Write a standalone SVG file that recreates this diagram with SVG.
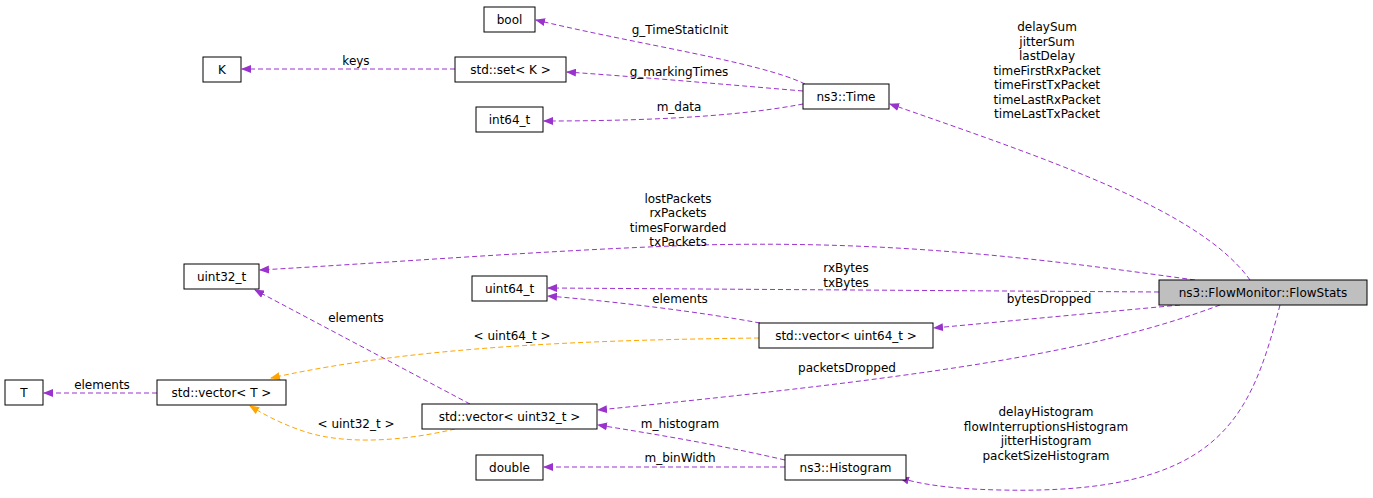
<svg xmlns="http://www.w3.org/2000/svg" width="1373" height="498" viewBox="0 0 1373 498">
<style>
.n rect{fill:#fff;stroke:#000;stroke-width:1}
text{font-family:"DejaVu Sans",sans-serif;font-size:12px;fill:#000;text-anchor:middle}
.e path{fill:none;stroke:#9a32cd;stroke-dasharray:5,3;marker-end:url(#ap)}
.e path.o{stroke:#ffa500;marker-end:url(#ao)}
</style>
<defs>
<marker id="ap" markerWidth="10" markerHeight="8" refX="9" refY="4" orient="auto" markerUnits="userSpaceOnUse"><path d="M0,0L10,4L0,8z" fill="#9a32cd"/></marker>
<marker id="ao" markerWidth="10" markerHeight="8" refX="9" refY="4" orient="auto" markerUnits="userSpaceOnUse"><path d="M0,0L10,4L0,8z" fill="#ffa500"/></marker>
</defs>
<rect width="1373" height="498" fill="#fff"/>
<g class="e" id="edges">
<path d="M805,84C760,62 640,45 536,20"/>
<text x="680" y="34">g_TimeStaticInit</text>
<path d="M803,91C720,84 640,77 567,72"/>
<text x="679" y="76">g_markingTimes</text>
<path d="M803,104C730,118 630,121 544,121"/>
<text x="679" y="111">m_data</text>
<path d="M455,69L242,69"/>
<text x="356" y="65">keys</text>
<path d="M1250,280C1200,210 1050,160 890,104"/>
<text x="1047" y="31">delaySum</text><text x="1047" y="46">jitterSum</text><text x="1047" y="60">lastDelay</text><text x="1047" y="75">timeFirstRxPacket</text><text x="1047" y="89">timeFirstTxPacket</text><text x="1047" y="104">timeLastRxPacket</text><text x="1047" y="118">timeLastTxPacket</text>
<path d="M1195,280C1050,260 900,240 700,245C550,250 400,262 260,270"/>
<text x="678" y="203">lostPackets</text><text x="678" y="217">rxPackets</text><text x="678" y="232">timesForwarded</text><text x="678" y="246">txPackets</text>
<path d="M1159,292L548,288"/>
<text x="846" y="272">rxBytes</text><text x="846" y="287">txBytes</text>
<path d="M1180,305L934,328"/>
<text x="1049" y="303">bytesDropped</text>
<path d="M1220,305C1100,350 950,375 598,410"/>
<text x="847" y="372">packetsDropped</text>
<path d="M1280,305C1250,420 1220,495 1000,490C950,489 920,484 900,478"/>
<text x="1046" y="416">delayHistogram</text><text x="1046" y="431">flowInterruptionsHistogram</text><text x="1046" y="445">jitterHistogram</text><text x="1046" y="460">packetSizeHistogram</text>
<path d="M760,323C700,312 620,302 548,296"/>
<text x="680" y="303">elements</text>
<path class="o" d="M759,338C600,340 420,345 271,378"/>
<text x="512" y="340">&lt; uint64_t &gt;</text>
<path d="M470,404L255,290"/>
<text x="356" y="322">elements</text>
<path class="o" d="M455,429C400,442 340,445 300,430C280,423 265,415 250,406"/>
<text x="356" y="428">&lt; uint32_t &gt;</text>
<path d="M157,393L44,393"/>
<text x="102" y="389">elements</text>
<path d="M785,460C720,445 660,435 598,425"/>
<text x="680" y="428">m_histogram</text>
<path d="M785,467L544,467"/>
<text x="680" y="462">m_binWidth</text>
</g>
<g class="n" id="bool"><rect x="484" y="7" width="51" height="25"/><text x="509.5" y="24">bool</text></g>
<g class="n" id="K"><rect x="203" y="57" width="38" height="25"/><text x="222" y="74">K</text></g>
<g class="n" id="set"><rect x="455" y="57" width="111" height="25"/><text x="510.5" y="74">std::set&lt; K &gt;</text></g>
<g class="n" id="int64"><rect x="476" y="107" width="67" height="25"/><text x="509.5" y="124">int64_t</text></g>
<g class="n" id="time"><rect x="803" y="84" width="86" height="25"/><text x="846" y="101">ns3::Time</text></g>
<g class="n" id="uint32"><rect x="184" y="264" width="75" height="25"/><text x="221.5" y="281">uint32_t</text></g>
<g class="n" id="uint64"><rect x="472" y="276" width="75" height="25"/><text x="509.5" y="293">uint64_t</text></g>
<g class="n" id="vec64"><rect x="759" y="323" width="174" height="25"/><text x="846" y="340">std::vector&lt; uint64_t &gt;</text></g>
<g class="n" id="T"><rect x="5" y="380" width="38" height="25"/><text x="24" y="397">T</text></g>
<g class="n" id="vecT"><rect x="157" y="380" width="129" height="25"/><text x="221.5" y="397">std::vector&lt; T &gt;</text></g>
<g class="n" id="vec32"><rect x="422" y="404" width="175" height="25"/><text x="509.5" y="421">std::vector&lt; uint32_t &gt;</text></g>
<g class="n" id="double"><rect x="476" y="455" width="67" height="25"/><text x="509.5" y="472">double</text></g>
<g class="n" id="hist"><rect x="785" y="455" width="121" height="25"/><text x="845.5" y="472">ns3::Histogram</text></g>
<g class="n" id="flowstats"><rect x="1159" y="280" width="208" height="25" style="fill:#bfbfbf"/><text x="1263" y="297">ns3::FlowMonitor::FlowStats</text></g>
</svg>
